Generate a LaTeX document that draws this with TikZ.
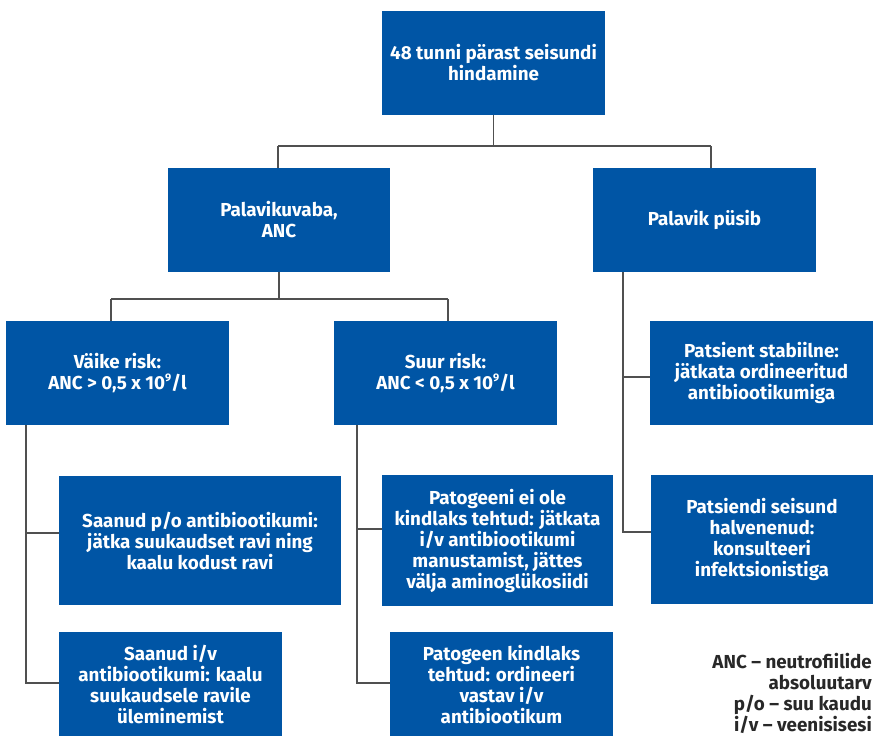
\documentclass[tikz,border=0pt]{standalone}
\usepackage{fontspec}
\setmainfont{Fira Sans}
\definecolor{boxblue}{RGB}{0,85,165}
\definecolor{linegray}{RGB}{80,80,80}
\definecolor{legendgray}{RGB}{40,40,40}
\newcommand{\supnine}{\raisebox{0.75ex}{\fontsize{11}{11}\selectfont 9}}
\begin{document}
\begin{tikzpicture}[x=1pt,y=-1pt,
  blk/.style={fill=boxblue, draw=none, text=white, align=center, inner sep=0pt,
    font=\bfseries\fontsize{18.8}{21}\selectfont},
  conn/.style={draw=linegray, line width=1.3pt}]
\useasboundingbox (0,0) rectangle (873,736);
\fill[white] (0,0) rectangle (873,736);
% boxes
\node[blk, minimum width=223pt, minimum height=104pt] (top) at (493.5,63) {48 tunni pärast seisundi\\hindamine};
\node[blk, minimum width=222pt, minimum height=104pt] (pv) at (279,220) {Palavikuvaba,\\ANC};
\node[blk, minimum width=223pt, minimum height=104pt] (pp) at (704.5,220) {Palavik püsib};
\node[blk, minimum width=223pt, minimum height=104pt] (vr) at (117.5,373) {Väike risk:\\ANC > 0,5 x 10\supnine/l};
\node[blk, minimum width=223pt, minimum height=104pt] (sr) at (445.5,373) {Suur risk:\\ANC < 0,5 x 10\supnine/l};
\node[blk, minimum width=223pt, minimum height=104pt] (ps) at (761.5,373) {Patsient stabiilne:\\jätkata ordineeritud\\antibiootikumiga};
\node[blk, minimum width=282pt, minimum height=129pt] (po) at (200,540.5) {Saanud p/o antibiootikumi:\\jätka suukaudset ravi ning\\kaalu kodust ravi};
\node[blk, minimum width=223pt, minimum height=105pt] (iv) at (170.5,684.5) {Saanud i/v\\antibiootikumi: kaalu\\suukaudsele ravile\\üleminemist};
\node[blk, minimum width=231pt, minimum height=131pt] (pn) at (497.5,540.5) {Patogeeni ei ole\\kindlaks tehtud: jätkata\\i/v antibiootikumi\\manustamist, jättes\\välja aminoglükosiidi};
\node[blk, minimum width=223pt, minimum height=105pt] (pk) at (501.5,684.5) {Patogeen kindlaks\\tehtud: ordineeri\\vastav i/v\\antibiootikum};
\node[blk, minimum width=222pt, minimum height=129pt] (pse) at (762,539.5) {Patsiendi seisund\\halvenenud:\\konsulteeri\\infektsionistiga};
% legend
\node[anchor=east, align=right, inner sep=0pt, text=legendgray,
  font=\bfseries\fontsize{18.8}{21}\selectfont] (leg) at (872,693.5)
  {ANC – neutrofiilide\\absoluutarv\\p/o – suu kaudu\\i/v – veenisisesi};
% connectors level 1
\coordinate (b1L) at (278,146);
\coordinate (b1R) at (711,146);
\draw[conn] (top.south) -- (top.south |- b1L);
\draw[conn] (b1L) -- (b1R);
\draw[conn] (b1L) -- (b1L |- pv.north);
\draw[conn] (b1R) -- (b1R |- pp.north);
% connectors level 2
\coordinate (b2L) at (111,299);
\coordinate (b2R) at (448,299);
\draw[conn] (pv.south) -- (pv.south |- b2L);
\draw[conn] (b2L) -- (b2R);
\draw[conn] (b2L) -- (b2L |- vr.north);
\draw[conn] (b2R) -- (b2R |- sr.north);
% Väike risk branch
\coordinate (v0) at (26,425);
\coordinate (v1) at (26,533);
\coordinate (v2) at (26,683);
\draw[conn] (v0 |- vr.south) -- (v2) -- (v2 -| iv.west);
\draw[conn] (v1) -- (v1 -| po.west);
% Suur risk branch
\coordinate (s0) at (357,425);
\coordinate (s1) at (357,529);
\coordinate (s2) at (357,683);
\draw[conn] (s0 |- sr.south) -- (s2) -- (s2 -| pk.west);
\draw[conn] (s1) -- (s1 -| pn.west);
% Palavik püsib branch
\coordinate (p0) at (623,272);
\coordinate (p1) at (623,377);
\coordinate (p2) at (623,532);
\draw[conn] (p0 |- pp.south) -- (p2) -- (p2 -| pse.west);
\draw[conn] (p1) -- (p1 -| ps.west);
\end{tikzpicture}
\end{document}
